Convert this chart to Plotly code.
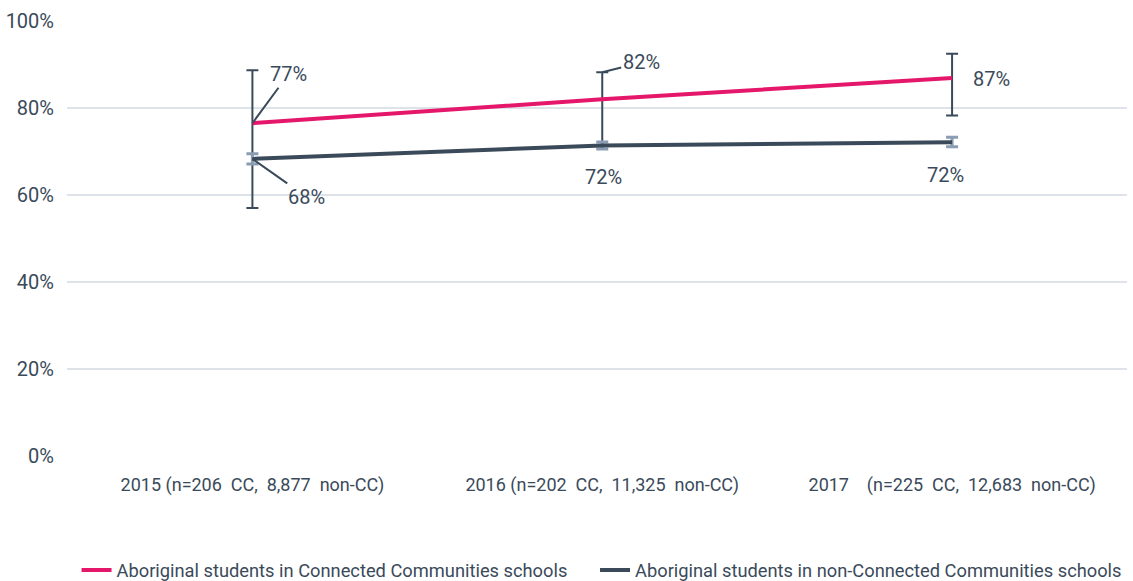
import plotly.graph_objects as go

NB = "\u00a0"
categories = ["2015 (n=206" + NB + " CC," + NB + " 8,877" + NB + " non-CC)",
              "2016 (n=202" + NB + " CC," + NB + " 11,325" + NB + " non-CC)",
              "2017" + NB + NB + NB + " (n=225" + NB + " CC," + NB + " 12,683" + NB + " non-CC)"]
cc_values = [76.5, 82.0, 86.9]
cc_err_plus = [12.2, 6.2, 5.6]
cc_err_minus = [19.5, 10.6, 8.6]
noncc_values = [68.3, 71.4, 72.1]
noncc_err_plus = [1.2, 0.8, 1.2]
noncc_err_minus = [1.2, 0.8, 1.0]
cc_labels = ["77%", "82%", "87%"]
noncc_labels = ["68%", "72%", "72%"]
series_names = ["Aboriginal students in Connected Communities schools",
                "Aboriginal students in non-Connected Communities schools"]
y_ticks = [0, 20, 40, 60, 80, 100]
y_ticktext = ["0%", "20%", "40%", "60%", "80%", "100%"]

PINK = "#e5176b"
DARK = "#3a4a5a"
LIGHT = "#8a9db2"
FONT = "Roboto, sans-serif"

xs = list(range(len(categories)))

fig = go.Figure()
fig.add_trace(go.Scatter(
    x=xs, y=cc_values, mode="lines", name=series_names[0] + NB * 5,
    line=dict(color=PINK, width=4),
    error_y=dict(type="data", array=cc_err_plus, arrayminus=cc_err_minus,
                 color=DARK, thickness=2, width=6, symmetric=False),
))
fig.add_trace(go.Scatter(
    x=xs, y=noncc_values, mode="lines", name=series_names[1],
    line=dict(color=DARK, width=4),
    error_y=dict(type="data", array=noncc_err_plus, arrayminus=noncc_err_minus,
                 color=LIGHT, thickness=3, width=6, symmetric=False),
))

ann = []
ann.append(dict(x=0, y=cc_values[0], text=cc_labels[0], showarrow=True, arrowhead=0,
                arrowwidth=2, arrowcolor=DARK, ax=36, ay=-49, standoff=0))
ann.append(dict(x=1, y=cc_values[1] + cc_err_plus[1], text=cc_labels[1], showarrow=True, arrowhead=0,
                arrowwidth=2, arrowcolor=DARK, ax=39, ay=-10, standoff=0))
ann.append(dict(x=2, y=cc_values[2], text=cc_labels[2], showarrow=False, xshift=39, yshift=-1))
ann.append(dict(x=0, y=noncc_values[0], text=noncc_labels[0], showarrow=True, arrowhead=0,
                arrowwidth=2, arrowcolor=DARK, ax=54, ay=38, standoff=0))
ann.append(dict(x=1, y=noncc_values[1], text=noncc_labels[1], showarrow=False, yshift=-32, xshift=1))
ann.append(dict(x=2, y=noncc_values[2], text=noncc_labels[2], showarrow=False, yshift=-33, xshift=-7))
for a in ann:
    a["font"] = dict(family=FONT, size=20, color=DARK)
    a["xref"] = "x"
    a["yref"] = "y"

fig.update_layout(
    width=1133, height=581,
    margin=dict(l=67, r=6, t=21, b=125),
    paper_bgcolor="white", plot_bgcolor="white",
    font=dict(family=FONT, size=18, color=DARK),
    annotations=ann,
    showlegend=True,
    legend=dict(orientation="h", x=0.009, xanchor="left", xref="paper",
                y=11 / 581, yanchor="middle", yref="container",
                font=dict(family=FONT, size=18.3, color=DARK), itemwidth=30,
                tracegroupgap=0),
    xaxis=dict(tickmode="array", tickvals=xs, ticktext=categories, range=[-0.53, 2.5],
               showgrid=False, zeroline=False, showline=False,
               ticks="outside", ticklen=12, tickcolor="rgba(0,0,0,0)",
               tickfont=dict(family=FONT, size=18, color=DARK)),
    yaxis=dict(range=[0, 100], tickmode="array", tickvals=y_ticks, ticktext=y_ticktext,
               showgrid=True, gridcolor="#dde3e8", gridwidth=2, zeroline=False,
               showline=False, ticks="outside", ticklen=8, tickcolor="rgba(0,0,0,0)",
               tickfont=dict(family=FONT, size=20, color=DARK)),
)

fig.write_html("out.html", config={"displayModeBar": False},
               post_script="document.body.style.margin='0';")
